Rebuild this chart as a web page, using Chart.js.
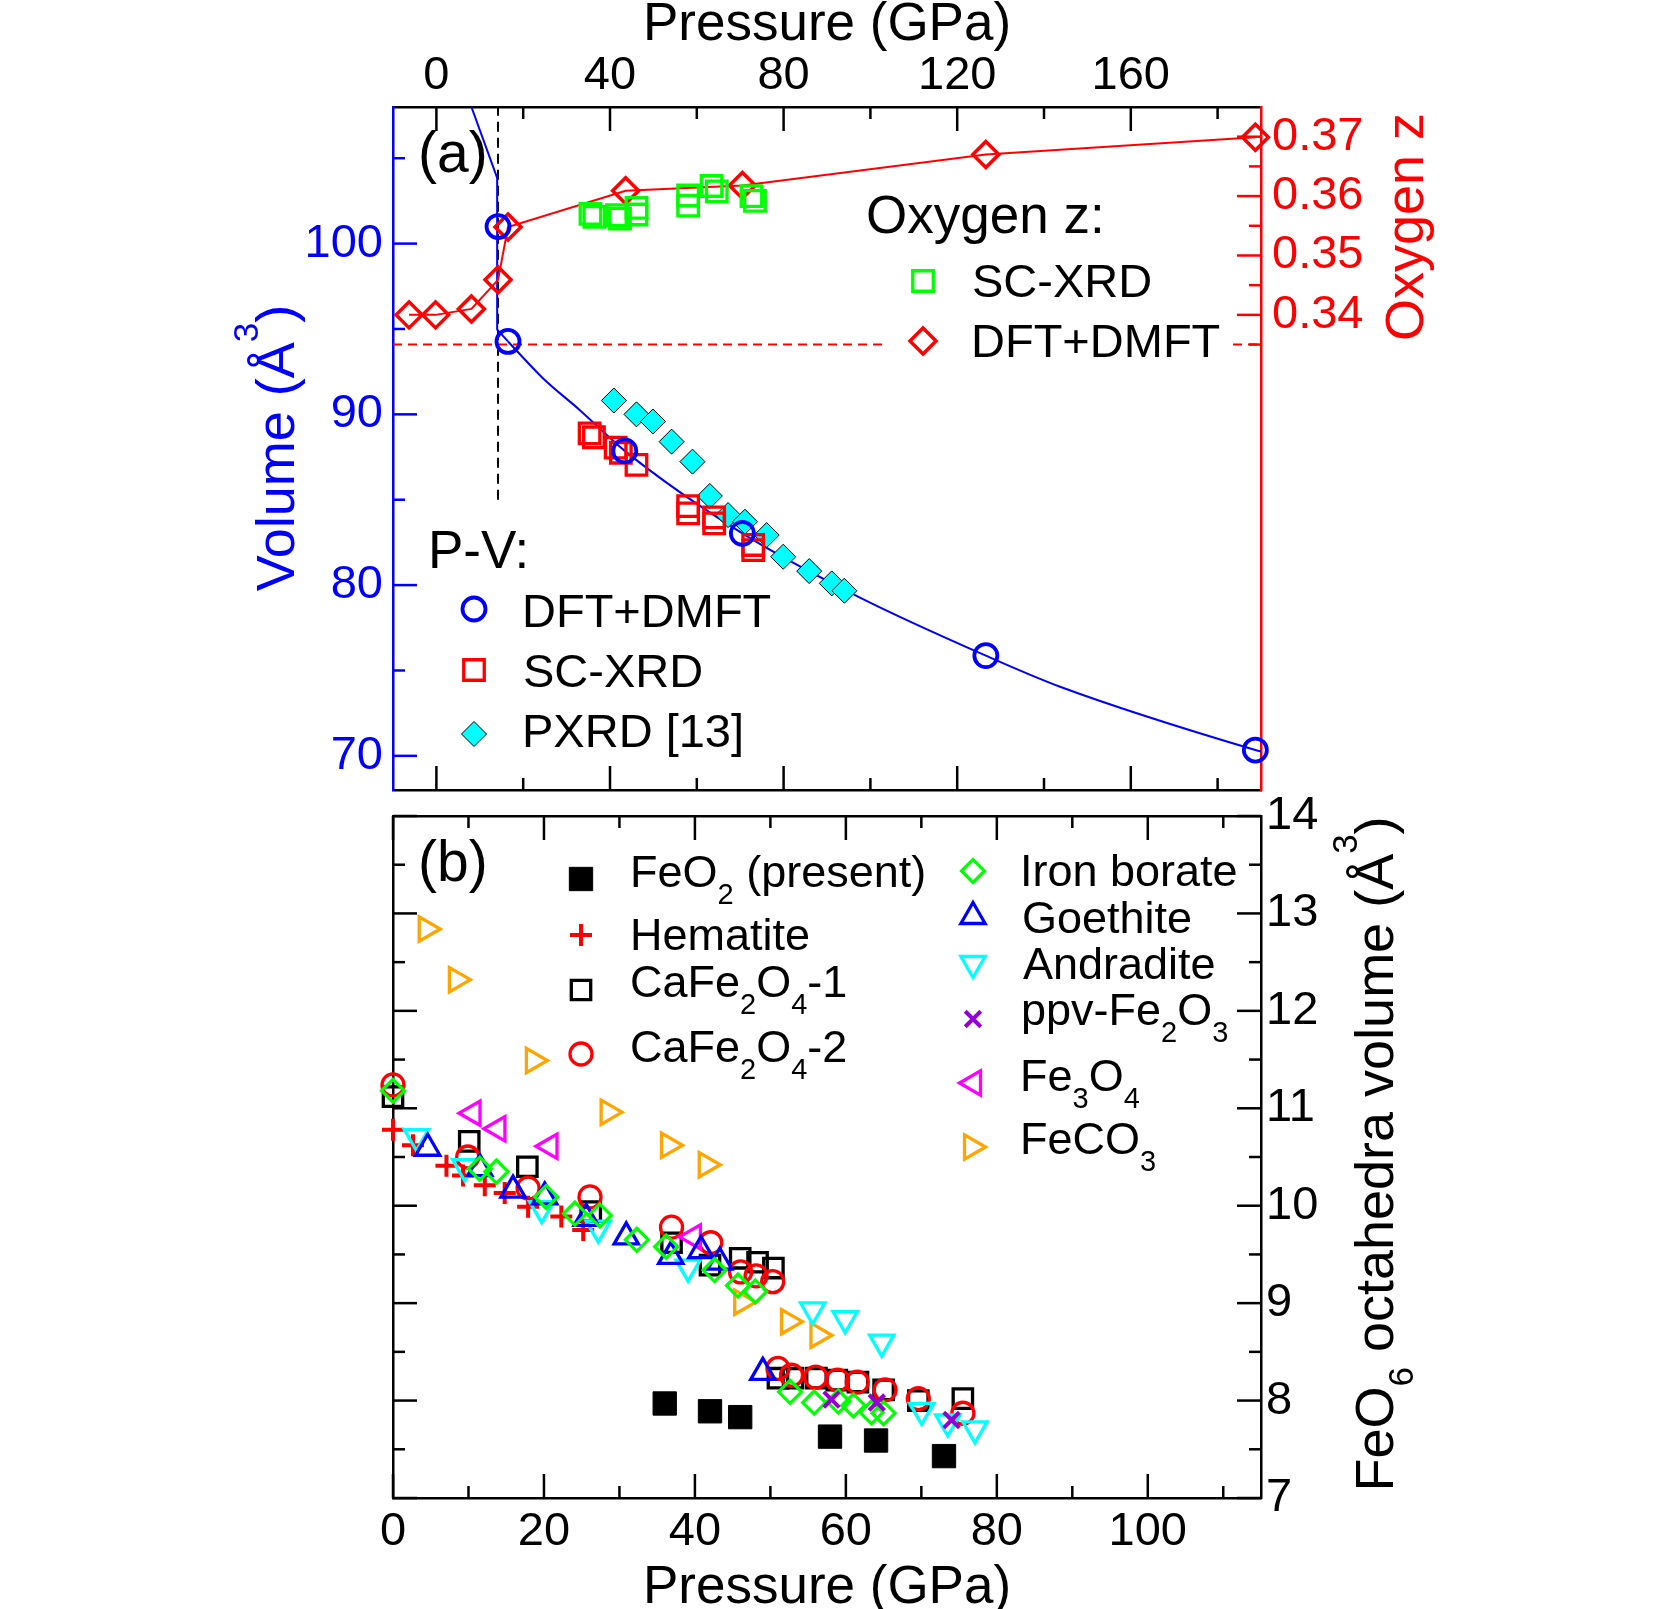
<!DOCTYPE html>
<html><head><meta charset="utf-8">
<script src="https://cdn.jsdelivr.net/npm/chart.js"></script>
<style>
html,body{margin:0;padding:0;background:#fff;}
body{width:1670px;height:1609px;position:relative;overflow:hidden;}
canvas{position:absolute;left:0;}
#cA{top:0;} #cB{top:740px;}
</style></head><body>
<canvas id="cA" width="1670" height="840" style="width:1670px;height:840px"></canvas>
<canvas id="cB" width="1670" height="869" style="width:1670px;height:869px"></canvas>
<script>
// ================= Panel (a) data =================
const pressureTopTicks = [0, 40, 80, 120, 160];
const pressureTopMinor = [20, 60, 100, 140, 180];
const volumeTicks = [70, 80, 90, 100];
const volumeMinor = [75, 85, 95, 105];
const oxygenTicks = [0.34, 0.35, 0.36, 0.37];
const oxygenMinor = [0.335, 0.345, 0.355, 0.365];

// DFT+DMFT P-V (circles)
const dmftVolP = [14.2, 16.5, 43.4, 70.5, 126.6, 188.7];
const dmftVolV = [101.0, 94.27, 87.86, 83.03, 75.87, 70.34];
// fitted EOS curve (blue line)
const eosLowP = [8.07, 14.0, 14.0, 16.5];
const eosLowV = [108.0, 103.84, 94.96, 94.27];
const eosHighP = [16.5, 24.6, 33.0, 43.4, 70.5, 97.6, 126.6, 143.7, 188.7, 190];
const eosHighV = [94.27, 92.1, 90.26, 87.86, 83.03, 79.27, 75.87, 74.05, 70.34, 70.25];
// SC-XRD P-V (red squares)
const scVolP = [35.3, 36.3, 41.3, 42.5, 46.1, 58.0, 58.0, 64.0, 64.0, 73.0, 73.0];
const scVolV = [88.89, 88.66, 88.05, 87.75, 87.04, 84.63, 84.20, 83.97, 83.62, 82.35, 82.05];
// PXRD [13] (cyan diamonds)
const pxrdP = [40.9, 46.1, 49.9, 54.2, 59.0, 63.0, 67.2, 71.1, 76.1, 79.9, 85.9, 91.1, 94.0];
const pxrdV = [90.81, 90.0, 89.58, 88.4, 87.23, 85.22, 84.1, 83.71, 82.93, 81.66, 80.82, 80.1, 79.67];
// Oxygen z, DFT+DMFT (red diamonds + line)
const dmftZP = [-6.3, -0.2, 8.07, 14.2, 16.5, 43.6, 70.5, 126.6, 188.7];
const dmftZ = [0.340, 0.340, 0.341, 0.3459, 0.3548, 0.3609, 0.3618, 0.3670, 0.3699];
// Oxygen z, SC-XRD (green squares)
const scZP = [35.5, 36.4, 41.6, 42.3, 46.1, 46.1, 58.0, 58.0, 63.4, 64.6, 72.6, 73.4];
const scZ = [0.3570, 0.3565, 0.3568, 0.3562, 0.3580, 0.3569, 0.3601, 0.3584, 0.3617, 0.3608, 0.3600, 0.3592];
// transition marker (vertical dashed) and reference z (horizontal dashed)
const transitionP = [14.2, 14.2];
const transitionV = [85.0, 108.0];
const refZP = [-10, 190];
const refZ = [0.335, 0.335];

// ================= Panel (b) data =================
const pressureBottomTicks = [0, 20, 40, 60, 80, 100];
const pressureBottomMinor = [10, 30, 50, 70, 90, 110];
const octaTicks = [7, 8, 9, 10, 11, 12, 13, 14];
const octaMinor = [7.5, 8.5, 9.5, 10.5, 11.5, 12.5, 13.5];

const feo2P = [36.0, 42.0, 46.0, 57.9, 64.0, 73.0];
const feo2V = [7.97, 7.89, 7.83, 7.63, 7.59, 7.43];
const hematiteP = [0, 2.65, 7.08, 9.28, 12.16, 14.8, 17.9, 22.3, 25.2];
const hematiteV = [10.78, 10.62, 10.41, 10.31, 10.21, 10.13, 9.99, 9.89, 9.75];
const cafe1P = [0, 10.1, 17.8, 26.2, 36.9, 42.0, 46.0, 48.3, 50.4, 51.0, 53.0, 56.1, 58.8, 61.6, 65.0, 69.6, 75.5];
const cafe1V = [11.12, 10.66, 10.40, 9.94, 9.62, 9.39, 9.46, 9.42, 9.36, 8.23, 8.23, 8.23, 8.21, 8.19, 8.11, 8.00, 8.02];
const cafe2P = [0, 9.9, 17.9, 26.1, 36.9, 42.1, 46.05, 48.1, 50.3, 51.0, 52.8, 56.0, 58.9, 61.5, 65.2, 69.6, 75.5];
const cafe2V = [11.24, 10.50, 10.18, 10.09, 9.78, 9.62, 9.32, 9.28, 9.22, 8.33, 8.26, 8.24, 8.21, 8.19, 8.11, 8.02, 7.87];
const boraP = [0, 11.5, 13.7, 20.3, 24.1, 27.4, 32.3, 36.2, 42.6, 45.7, 48.0, 52.6, 55.8, 59.0, 61.0, 63.4, 65.0];
const boraV = [11.18, 10.38, 10.35, 10.09, 9.92, 9.90, 9.65, 9.58, 9.34, 9.18, 9.12, 8.09, 7.98, 7.99, 7.95, 7.88, 7.87];
const goethP = [4.6, 11.5, 15.9, 20.1, 25.6, 30.9, 36.8, 40.8, 43.3, 49.0];
const goethV = [10.59, 10.38, 10.16, 10.09, 9.87, 9.68, 9.48, 9.54, 9.42, 8.29];
const andrP = [3.1, 9.5, 19.7, 27.2, 39.1, 55.6, 59.9, 64.75, 70.05, 73.5, 77.1];
const andrV = [10.71, 10.40, 9.97, 9.77, 9.37, 8.93, 8.84, 8.60, 7.90, 7.78, 7.71];
const ppvP = [58.1, 64.1, 74.0];
const ppvV = [8.01, 7.98, 7.80];
const fe3o4P = [10.6, 13.9, 20.8, 39.8];
const fe3o4V = [10.95, 10.79, 10.61, 9.68];
const feco3P = [4.4, 8.4, 18.6, 28.5, 36.5, 41.5, 46.2, 52.4, 56.3];
const feco3V = [12.84, 12.32, 11.49, 10.96, 10.62, 10.42, 9.01, 8.81, 8.67];

// ================= styles & helpers =================
const FONT = "'Liberation Sans', Arial, Helvetica, sans-serif";
const TICK_FONT = 47, LEG_FONT_A = 47, LEG_FONT_B = 45, HEAD_FONT = 53, TITLE_FONT = 54;
const BLUE = '#0000ff', RED = '#ff0000', GREEN = '#00ff00', CYAN = '#00ffff',
      ORANGE = '#ffa500', MAGENTA = '#ff00ff', VIOLET = '#9400d3', BLACK = '#000000';
const NONE = 'rgba(0,0,0,0)';

const mk = {
  dmftV: {style:'circle', r:11.5, color:BLUE, lw:3.8},
  scV:   {style:'rect', r:14.5, color:RED, lw:3.3},
  pxrd:  {style:'rectRot', r:12.5, color:BLACK, fill:CYAN, lw:1},
  dmftZ: {style:'rectRot', r:13, color:RED, lw:3.5},
  scZ:   {style:'rect', r:14.5, color:GREEN, lw:3.3},
  feo2:  {style:'rect', r:16.5, color:BLACK, fill:BLACK, lw:1},
  hem:   {style:'cross', r:11, color:RED, lw:4},
  cafe1: {style:'rect', r:13.7, color:BLACK, lw:3.3},
  cafe2: {style:'circle', r:11, color:RED, lw:3.3},
  bora:  {style:'rectRot', r:11.5, color:GREEN, lw:3.2},
  goeth: {style:'triangle', r:14, color:BLUE, lw:3.3, rot:0},
  andr:  {style:'triangle', r:14, color:CYAN, lw:3.3, rot:180},
  ppv:   {style:'crossRot', r:11, color:VIOLET, lw:4},
  fe3o4: {style:'triangle', r:14, color:MAGENTA, lw:3.3, rot:270},
  feco3: {style:'triangle', r:14, color:ORANGE, lw:3.3, rot:90}
};

function pts(xs, ys) { return xs.map((x, i) => ({x: x, y: ys[i]})); }
function markerDs(xs, ys, m, yAxis, extra) {
  return Object.assign({
    data: pts(xs, ys), xAxisID:'x', yAxisID:yAxis, showLine:false, clip:false,
    pointStyle:m.style, pointRadius:m.r, pointBorderWidth:m.lw, pointRotation:m.rot || 0,
    pointBorderColor:m.color, pointBackgroundColor:m.fill || NONE,
    borderColor:m.color, backgroundColor:m.fill || NONE
  }, extra || {});
}
function lineDs(xs, ys, color, yAxis, extra) {
  return Object.assign({
    data: pts(xs, ys), xAxisID:'x', yAxisID:yAxis, showLine:true, pointRadius:0,
    borderColor:color, backgroundColor:NONE, borderWidth:2, fill:false
  }, extra || {});
}

function drawMarker(ctx, m, x, y) {
  ctx.save();
  ctx.lineWidth = m.lw; ctx.strokeStyle = m.color; ctx.fillStyle = m.fill || NONE;
  ctx.beginPath();
  const r = m.r;
  if (m.style === 'circle') ctx.arc(x, y, r, 0, Math.PI * 2);
  else if (m.style === 'rect') { const s = r * Math.SQRT1_2; ctx.rect(x - s, y - s, 2 * s, 2 * s); }
  else if (m.style === 'rectRot') { ctx.moveTo(x - r, y); ctx.lineTo(x, y - r); ctx.lineTo(x + r, y); ctx.lineTo(x, y + r); ctx.closePath(); }
  else if (m.style === 'triangle') {
    const a0 = (m.rot || 0) * Math.PI / 180, v = [];
    for (let k = 0; k < 3; k++) { const a = a0 + k * 2 * Math.PI / 3; v.push([Math.sin(a) * r, -Math.cos(a) * r]); }
    const xs = v.map(p => p[0]), ys = v.map(p => p[1]);
    const cx = (Math.min(...xs) + Math.max(...xs)) / 2, cy = (Math.min(...ys) + Math.max(...ys)) / 2;
    v.forEach((p, i) => { const px = x + p[0] - cx, py = y + p[1] - cy; if (i) ctx.lineTo(px, py); else ctx.moveTo(px, py); });
    ctx.closePath();
  } else if (m.style === 'cross') { ctx.moveTo(x, y - r); ctx.lineTo(x, y + r); ctx.moveTo(x - r, y); ctx.lineTo(x + r, y); }
  else if (m.style === 'crossRot') { const d = r * Math.SQRT1_2; ctx.moveTo(x - d, y - d); ctx.lineTo(x + d, y + d); ctx.moveTo(x - d, y + d); ctx.lineTo(x + d, y - d); }
  if (m.fill) ctx.fill();
  if (m.lw > 0) ctx.stroke();
  ctx.restore();
}

// parts: [text, kind] kind 0 normal, 1 subscript, 2 superscript
function richText(ctx, parts, x, y, size, color, align) {
  ctx.save();
  ctx.fillStyle = color; ctx.textBaseline = 'alphabetic'; ctx.textAlign = 'left';
  const small = Math.round(size * 0.64);
  const widths = parts.map(([t, k]) => { ctx.font = (k ? small : size) + 'px ' + FONT; return ctx.measureText(t).width; });
  const total = widths.reduce((a, b) => a + b, 0);
  let cx = align === 'center' ? x - total / 2 : x;
  parts.forEach(([t, k], i) => {
    ctx.font = (k ? small : size) + 'px ' + FONT;
    const dy = k === 1 ? size * 0.37 : (k === 2 ? -size * 0.66 : 0);
    ctx.fillText(t, cx, y + dy);
    cx += widths[i];
  });
  ctx.restore();
}
function rotText(ctx, parts, x, y, size, color) {
  ctx.save(); ctx.translate(x, y); ctx.rotate(-Math.PI / 2);
  richText(ctx, parts, 0, 0, size, color, 'center');
  ctx.restore();
}

function makeAxis(pos, min, max, o) {
  const a = {
    type:'linear', position:pos, min:min, max:max,
    grid:{display:false, drawTicks:false},
    border:{display:true, color:o.color || BLACK, width:2.5},
    ticks:{display:false},
    afterFit:o.fit
  };
  if (o.labels) {
    a.ticks = {display:true, color:o.color || BLACK, font:{family:FONT, size:TICK_FONT}, padding:o.pad,
      autoSkip:false, maxRotation:0, minRotation:0, callback:(v) => String(v)};
    a.afterBuildTicks = (s) => { s.ticks = o.labels.map(v => ({value:v})); };
  }
  return a;
}

function tickPlugin(id, specs) {
  return { id:id, afterDraw(chart) {
    const ctx = chart.ctx, ca = chart.chartArea;
    ctx.save(); ctx.lineWidth = 2.5; ctx.lineCap = 'butt';
    specs.forEach(s => {
      const sc = chart.scales[s.scale]; ctx.strokeStyle = s.color;
      [[s.major, 24], [s.minor, 12]].forEach(([vals, len]) => vals.forEach(v => {
        const p = sc.getPixelForValue(v);
        ctx.beginPath();
        if (s.edge === 'top') { ctx.moveTo(p, ca.top); ctx.lineTo(p, ca.top + len); }
        else if (s.edge === 'bottom') { ctx.moveTo(p, ca.bottom); ctx.lineTo(p, ca.bottom - len); }
        else if (s.edge === 'left') { ctx.moveTo(ca.left, p); ctx.lineTo(ca.left + len, p); }
        else { ctx.moveTo(ca.right, p); ctx.lineTo(ca.right - len, p); }
        ctx.stroke();
      }));
    });
    ctx.restore();
  }};
}

// ================= Chart (a) =================
const textA = {
  id:'textA',
  afterDatasetsDraw(chart) {
    const ctx = chart.ctx;
    ctx.save(); ctx.fillStyle = '#fff'; ctx.fillRect(882, 190, 347, 182); ctx.restore();
    richText(ctx, [['Oxygen z:', 0]], 866, 233, HEAD_FONT, BLACK);
    drawMarker(ctx, mk.scZ, 923, 281);
    richText(ctx, [['SC-XRD', 0]], 972, 297, LEG_FONT_A, BLACK);
    drawMarker(ctx, mk.dmftZ, 923, 341);
    richText(ctx, [['DFT+DMFT', 0]], 971, 357, LEG_FONT_A, BLACK);

    richText(ctx, [['P-V:', 0]], 428, 568, HEAD_FONT, BLACK);
    drawMarker(ctx, mk.dmftV, 474, 609);
    richText(ctx, [['DFT+DMFT', 0]], 522, 627, LEG_FONT_A, BLACK);
    drawMarker(ctx, mk.scV, 474, 670);
    richText(ctx, [['SC-XRD', 0]], 523, 687, LEG_FONT_A, BLACK);
    drawMarker(ctx, mk.pxrd, 474, 734);
    richText(ctx, [['PXRD [13]', 0]], 522, 747, LEG_FONT_A, BLACK);

    richText(ctx, [['(a)', 0]], 418, 172, 57, BLACK);
  },
  afterDraw(chart) {
    const ctx = chart.ctx;
    richText(ctx, [['Pressure (GPa)', 0]], 827, 40, 53, BLACK, 'center');
    rotText(ctx, [['Volume (Å', 0], ['3', 2], [')', 0]], 294, 448, TITLE_FONT, BLUE);
    rotText(ctx, [['Oxygen z', 0]], 1423, 227, TITLE_FONT, RED);
  }
};

new Chart(document.getElementById('cA'), {
  type:'scatter',
  data:{ datasets:[
    markerDs(dmftVolP, dmftVolV, mk.dmftV, 'yv'),
    markerDs(scVolP, scVolV, mk.scV, 'yv'),
    markerDs(pxrdP, pxrdV, mk.pxrd, 'yv'),
    markerDs(scZP, scZ, mk.scZ, 'yz'),
    markerDs(dmftZP, dmftZ, mk.dmftZ, 'yz', {showLine:true, borderWidth:2}),
    lineDs(eosHighP, eosHighV, BLUE, 'yv', {cubicInterpolationMode:'monotone', tension:0.4}),
    lineDs(eosLowP, eosLowV, BLUE, 'yv'),
    lineDs(transitionP, transitionV, BLACK, 'yv', {borderDash:[10, 6]}),
    lineDs(refZP, refZ, RED, 'yz', {borderDash:[9, 6]})
  ]},
  options:{
    responsive:false, animation:false, devicePixelRatio:1, events:[],
    layout:{padding:0},
    plugins:{legend:{display:false}, tooltip:{enabled:false}},
    scales:{
      x: makeAxis('bottom', -10, 190, {fit:(s) => { s.height = 50; }}),
      xt: makeAxis('top', -10, 190, {labels:pressureTopTicks, pad:3, fit:(s) => { s.height = 107; }}),
      yv: makeAxis('left', 68, 108, {labels:volumeTicks, pad:10, color:BLUE, fit:(s) => { s.width = 393; }}),
      yz: makeAxis('right', 0.26, 0.375, {labels:oxygenTicks, pad:11, color:RED, fit:(s) => { s.width = 409; }})
    }
  },
  plugins:[tickPlugin('ticksA', [
    {scale:'xt', edge:'top', major:pressureTopTicks, minor:pressureTopMinor, color:BLACK},
    {scale:'x', edge:'bottom', major:pressureTopTicks, minor:pressureTopMinor, color:BLACK},
    {scale:'yv', edge:'left', major:volumeTicks, minor:volumeMinor, color:BLUE},
    {scale:'yz', edge:'right', major:oxygenTicks, minor:oxygenMinor, color:RED}
  ]), textA]
});

// ================= Chart (b) =================
const textB = {
  id:'textB',
  afterDatasetsDraw(chart) {
    const ctx = chart.ctx, F = LEG_FONT_B;
    richText(ctx, [['(b)', 0]], 418, 141, 57, BLACK);
    drawMarker(ctx, mk.feo2, 581, 139);
    richText(ctx, [['FeO', 0], ['2', 1], [' (present)', 0]], 630, 147, F, BLACK);
    drawMarker(ctx, mk.hem, 581, 195);
    richText(ctx, [['Hematite', 0]], 630, 210, F, BLACK);
    drawMarker(ctx, mk.cafe1, 581, 250);
    richText(ctx, [['CaFe', 0], ['2', 1], ['O', 0], ['4', 1], ['-1', 0]], 630, 257, F, BLACK);
    drawMarker(ctx, mk.cafe2, 581, 314);
    richText(ctx, [['CaFe', 0], ['2', 1], ['O', 0], ['4', 1], ['-2', 0]], 630, 322, F, BLACK);

    drawMarker(ctx, mk.bora, 973, 131);
    richText(ctx, [['Iron borate', 0]], 1020, 146, F, BLACK);
    drawMarker(ctx, mk.goeth, 973, 173);
    richText(ctx, [['Goethite', 0]], 1022, 193, F, BLACK);
    drawMarker(ctx, mk.andr, 973, 227);
    richText(ctx, [['Andradite', 0]], 1023, 239, F, BLACK);
    drawMarker(ctx, mk.ppv, 973, 279);
    richText(ctx, [['ppv-Fe', 0], ['2', 1], ['O', 0], ['3', 1]], 1021, 285, F, BLACK);
    drawMarker(ctx, mk.fe3o4, 970, 343);
    richText(ctx, [['Fe', 0], ['3', 1], ['O', 0], ['4', 1]], 1020, 351, F, BLACK);
    drawMarker(ctx, mk.feco3, 975, 407);
    richText(ctx, [['FeCO', 0], ['3', 1]], 1020, 414, F, BLACK);
  },
  afterDraw(chart) {
    const ctx = chart.ctx;
    richText(ctx, [['Pressure (GPa)', 0]], 827, 863, 53, BLACK, 'center');
    rotText(ctx, [['FeO', 0], ['6', 1], [' octahedra volume (Å', 0], ['3', 2], [')', 0]], 1393, 414, TITLE_FONT, BLACK);
  }
};

new Chart(document.getElementById('cB'), {
  type:'scatter',
  data:{ datasets:[
    markerDs(feo2P, feo2V, mk.feo2, 'yo'),
    markerDs(ppvP, ppvV, mk.ppv, 'yo'),
    markerDs(boraP, boraV, mk.bora, 'yo'),
    markerDs(goethP, goethV, mk.goeth, 'yo'),
    markerDs(andrP, andrV, mk.andr, 'yo'),
    markerDs(fe3o4P, fe3o4V, mk.fe3o4, 'yo'),
    markerDs(hematiteP, hematiteV, mk.hem, 'yo'),
    markerDs(cafe2P, cafe2V, mk.cafe2, 'yo'),
    markerDs(cafe1P, cafe1V, mk.cafe1, 'yo'),
    markerDs(feco3P, feco3V, mk.feco3, 'yo')
  ]},
  options:{
    responsive:false, animation:false, devicePixelRatio:1, events:[],
    layout:{padding:0},
    plugins:{legend:{display:false}, tooltip:{enabled:false}},
    scales:{
      x: makeAxis('bottom', 0, 115, {labels:pressureBottomTicks, pad:6, fit:(s) => { s.height = 111; }}),
      xt: makeAxis('top', 0, 115, {fit:(s) => { s.height = 76; }}),
      yl: makeAxis('left', 7, 14, {fit:(s) => { s.width = 393; }}),
      yo: makeAxis('right', 7, 14, {labels:octaTicks, pad:5, fit:(s) => { s.width = 409; }})
    }
  },
  plugins:[tickPlugin('ticksB', [
    {scale:'xt', edge:'top', major:pressureBottomTicks, minor:pressureBottomMinor, color:BLACK},
    {scale:'x', edge:'bottom', major:pressureBottomTicks, minor:pressureBottomMinor, color:BLACK},
    {scale:'yl', edge:'left', major:octaTicks, minor:octaMinor, color:BLACK},
    {scale:'yo', edge:'right', major:octaTicks, minor:octaMinor, color:BLACK}
  ]), textB]
});
</script>
</body></html>
